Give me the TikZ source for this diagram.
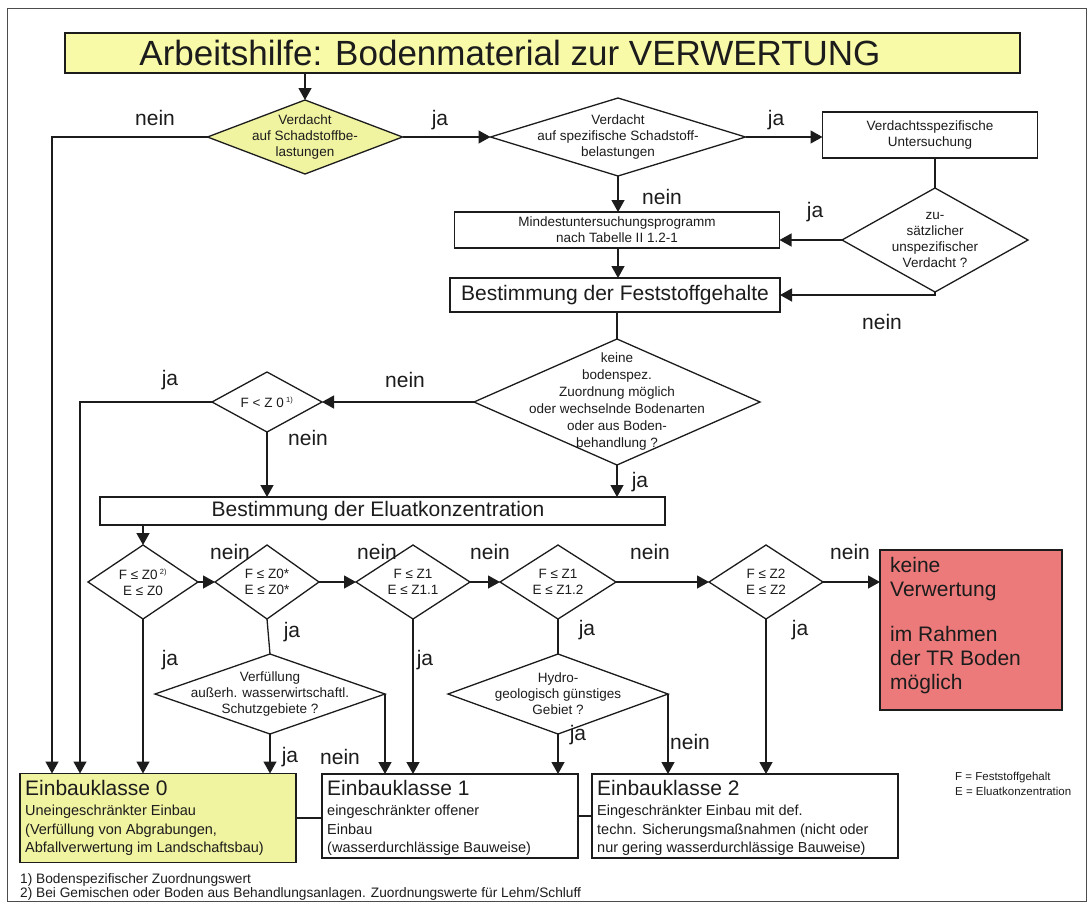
\documentclass[tikz,border=0pt]{standalone}
\usepackage{fontspec}
\setmainfont{Liberation Sans}
\usetikzlibrary{shapes.geometric,arrows.meta}
\definecolor{lyellow}{RGB}{240,243,160}
\definecolor{tyellow}{RGB}{248,250,168}
\definecolor{lred}{RGB}{236,122,122}
\definecolor{ink}{RGB}{28,28,28}
\newcommand{\fsz}[2]{\fontsize{#1}{#2}\selectfont}
\begin{document}
\begin{tikzpicture}[x=1pt,y=-1pt,
  ln/.style={draw=ink,line width=1.3pt},
  arr/.style={ln,-{Triangle[length=12pt,width=13pt]}},
  box/.style={draw=ink,line width=1.3pt,rectangle,inner sep=0pt,outer sep=0pt},
  dia/.style={draw=ink,line width=1.3pt,diamond,inner sep=0pt,outer sep=0pt},
  dtxt/.style={align=center,font=\fsz{13.5}{16},inner sep=0pt,text=ink},
  btxt/.style={font=\fsz{21}{24},inner sep=0pt,text=ink},
  lbl/.style={font=\fsz{21}{24},inner sep=0pt,text=ink},
  stxt/.style={font=\fsz{14.5}{18.5},inner sep=0pt,text=ink,align=left},
  ftxt/.style={font=\fsz{13.7}{15},inner sep=0pt,text=ink},
]
\useasboundingbox (0,0) rectangle (1091,908);
\fill[white] (0,0) rectangle (1091,908);
\draw[draw=gray!60!black,line width=1pt] (7,8) rectangle (1086,901);

% title
\node[box,fill=tyellow,minimum width=955pt,minimum height=40pt] (title) at (542.5,53) {};
\node[font=\fsz{35}{40},inner sep=0pt,text=ink] (titlet) at (510,53) {Arbeitshilfe: Bodenmaterial zur VERWERTUNG};

% first row
\node[dia,fill=lyellow,minimum width=195pt,minimum height=74pt] (d1) at (305,137) {};
\node[dtxt] (d1t) at (d1) {Verdacht\\auf Schadstoffbe-\\lastungen};
\node[dia,minimum width=255pt,minimum height=78pt] (d2) at (618,137) {};
\node[dtxt] (d2t) at (d2) {Verdacht\\auf spezifische Schadstoff-\\belastungen};
\node[box,minimum width=215pt,minimum height=46pt] (V) at (930,135) {};
\node[dtxt] (Vt) at (V) {Verdachtsspezifische\\Untersuchung};
\node[dia,minimum width=186pt,minimum height=104pt] (d3) at (935,240) {};
\node[dtxt] (d3t) at (d3) {zu-\\sätzlicher\\unspezifischer\\Verdacht ?};
\node[box,minimum width=325pt,minimum height=36pt] (M) at (617,230) {};
\node[dtxt] (Mt) at (M) {Mindestuntersuchungsprogramm\\nach Tabelle II 1.2-1};
\node[box,minimum width=330pt,minimum height=34pt] (F) at (615,295) {};
\node[btxt] (Ft) at (F) {Bestimmung der Feststoffgehalte};
\node[dia,minimum width=286pt,minimum height=126pt] (d4) at (617,402) {};
\node[dtxt,font=\fsz{13.5}{17}] (d4t) at (d4) {keine\\bodenspez.\\Zuordnung möglich\\oder wechselnde Bodenarten\\oder aus Boden-\\behandlung ?};
\node[dia,minimum width=110pt,minimum height=60pt] (d5) at (267,402) {};
\node[dtxt] (d5t) at (d5) {F < Z 0\,\textsuperscript{\fsz{7.5}{8}1)}};
\node[box,minimum width=565pt,minimum height=28pt] (El) at (382.5,511) {};
\node[btxt] (Elt) at (378,511) {Bestimmung der Eluatkonzentration};

% row of limit checks
\node[dia,minimum width=110pt,minimum height=74pt] (d6) at (143,582) {};
\node[dtxt] (d6t) at (d6) {F ≤ Z0\,\textsuperscript{\fsz{7.5}{8}2)}\\E ≤ Z0};
\node[dia,minimum width=104pt,minimum height=74pt] (d7) at (267,582) {};
\node[dtxt] (d7t) at (d7) {F ≤ Z0*\\E ≤ Z0*};
\node[dia,minimum width=114pt,minimum height=74pt] (d8) at (413,582) {};
\node[dtxt] (d8t) at (d8) {F ≤ Z1\\E ≤ Z1.1};
\node[dia,minimum width=116pt,minimum height=74pt] (d10) at (558,582) {};
\node[dtxt] (d10t) at (d10) {F ≤ Z1\\E ≤ Z1.2};
\node[dia,minimum width=114pt,minimum height=74pt] (d11) at (766,582) {};
\node[dtxt] (d11t) at (d11) {F ≤ Z2\\E ≤ Z2};
\node[box,fill=lred,minimum width=182pt,minimum height=160pt] (R) at (971,630) {};
\node[font=\fsz{21}{24},inner sep=0pt,text=ink,align=left,anchor=west] (Rt) at (890,626) {keine\\Verwertung\\[21pt]im Rahmen\\der TR Boden\\möglich};

\node[dia,minimum width=230pt,minimum height=80pt] (d9) at (270,694) {};
\node[dtxt] (d9t) at (d9) {Verfüllung\\außerh. wasserwirtschaftl.\\Schutzgebiete ?};
\node[dia,minimum width=220pt,minimum height=80pt] (d12) at (558,694) {};
\node[dtxt] (d12t) at (d12) {Hydro-\\geologisch günstiges\\Gebiet ?};

% Einbauklassen
\node[box,fill=lyellow,minimum width=276pt,minimum height=89pt] (E0) at (158,818) {};
\node[btxt,anchor=west] (E0h) at (25,788) {Einbauklasse 0};
\node[stxt,anchor=north west] (E0b) at (25,805) {Uneingeschränkter Einbau\\(Verfüllung von Abgrabungen,\\Abfallverwertung im Landschaftsbau)};
\node[box,minimum width=256pt,minimum height=84pt] (E1) at (450,816) {};
\node[btxt,anchor=west] (E1h) at (327,788) {Einbauklasse 1};
\node[stxt,anchor=north west] (E1b) at (327,805) {eingeschränkter offener\\Einbau\\(wasserdurchlässige Bauweise)};
\node[box,minimum width=306pt,minimum height=84pt] (E2) at (745,816) {};
\node[btxt,anchor=west] (E2h) at (597,788) {Einbauklasse 2};
\node[stxt,anchor=north west] (E2b) at (597,805) {Eingeschränkter Einbau mit def.\\techn. Sicherungsmaßnahmen (nicht oder\\nur gering wasserdurchlässige Bauweise)};

% legend and footnotes
\node[ftxt,font=\fsz{11.5}{13},anchor=west] (lg1) at (955,778) {F = Feststoffgehalt};
\node[ftxt,font=\fsz{11.5}{13},anchor=west] (lg2) at (955,791) {E = Eluatkonzentration};
\node[ftxt,anchor=west] (fn1) at (20,880) {1) Bodenspezifischer Zuordnungswert};
\node[ftxt,anchor=west] (fn2) at (20,894) {2) Bei Gemischen oder Boden aus Behandlungsanlagen. Zuordnungswerte für Lehm/Schluff};

% helper coordinates
\coordinate (x52) at (52,0);
\coordinate (x80) at (80,0);

% connectors
\draw[arr] (d1.north |- title.south) -- (d1.north);
\draw[arr] (d1.west) -| (x52 |- E0.north);
\draw[arr] (d1.east) -- (d2.west);
\draw[arr] (d2.east) -- (d2.east -| V.west);
\draw[arr] (d2.south) -- (d2.south |- M.north);
\draw[ln] (d3.north |- V.south) -- (d3.north);
\draw[arr] (d3.west) -- (d3.west -| M.east);
\draw[arr] (d3.south) |- (F.east);
\draw[arr] (d2.south |- M.south) -- (d2.south |- F.north);
\draw[ln] (d4.north |- F.south) -- (d4.north);
\draw[arr] (d4.west) -- (d5.east);
\draw[arr] (d5.west) -| (x80 |- E0.north);
\draw[arr] (d5.south) -- (d5.south |- El.north);
\draw[arr] (d4.south) -- (d4.south |- El.north);
\draw[arr] (d6.north |- El.south) -- (d6.north);
\draw[arr] (d6.east) -- (d7.west);
\draw[arr] (d7.east) -- (d8.west);
\draw[arr] (d8.east) -- (d10.west);
\draw[arr] (d10.east) -- (d11.west);
\draw[arr] (d11.east) -- (d11.east -| R.west);
\draw[arr] (d6.south) -- (d6.south |- E0.north);
\draw[ln] (d7.south) -- (d9.north);
\draw[arr] (d9.south) -- (d9.south |- E0.north);
\draw[arr] (d9.east) -- (d9.east |- E1.north);
\draw[arr] (d8.south) -- (d8.south |- E1.north);
\draw[ln] (d10.south) -- (d12.north);
\draw[arr] (d12.south) -- (d12.south |- E1.north);
\draw[arr] (d12.east) -- (d12.east |- E2.north);
\draw[arr] (d11.south) -- (d11.south |- E2.north);
\draw[ln] (E0.east) -- (E0.east -| E1.west);
\draw[ln] (E1.east) -- (E1.east -| E2.west);

% labels
\node[lbl] (l1) at (155,118) {nein};
\node[lbl] (l2) at (440,120) {ja};
\node[lbl] (l3) at (776,120) {ja};
\node[lbl] (l4) at (662,197) {nein};
\node[lbl] (l5) at (815,212) {ja};
\node[lbl] (l6) at (882,322) {nein};
\node[lbl] (l7) at (405,380) {nein};
\node[lbl] (l8) at (170,380) {ja};
\node[lbl] (l9) at (308,438) {nein};
\node[lbl] (l10) at (640,482) {ja};
\node[lbl] (l11) at (230,552) {nein};
\node[lbl] (l12) at (377,552) {nein};
\node[lbl] (l13) at (490,552) {nein};
\node[lbl] (l14) at (650,552) {nein};
\node[lbl] (l15) at (850,552) {nein};
\node[lbl] (l16) at (292,632) {ja};
\node[lbl] (l17) at (170,660) {ja};
\node[lbl] (l18) at (425,660) {ja};
\node[lbl] (l19) at (587,630) {ja};
\node[lbl] (l20) at (800,630) {ja};
\node[lbl] (l21) at (290,757) {ja};
\node[lbl] (l22) at (340,757) {nein};
\node[lbl] (l23) at (578,735) {ja};
\node[lbl] (l24) at (690,742) {nein};
\end{tikzpicture}
\end{document}
